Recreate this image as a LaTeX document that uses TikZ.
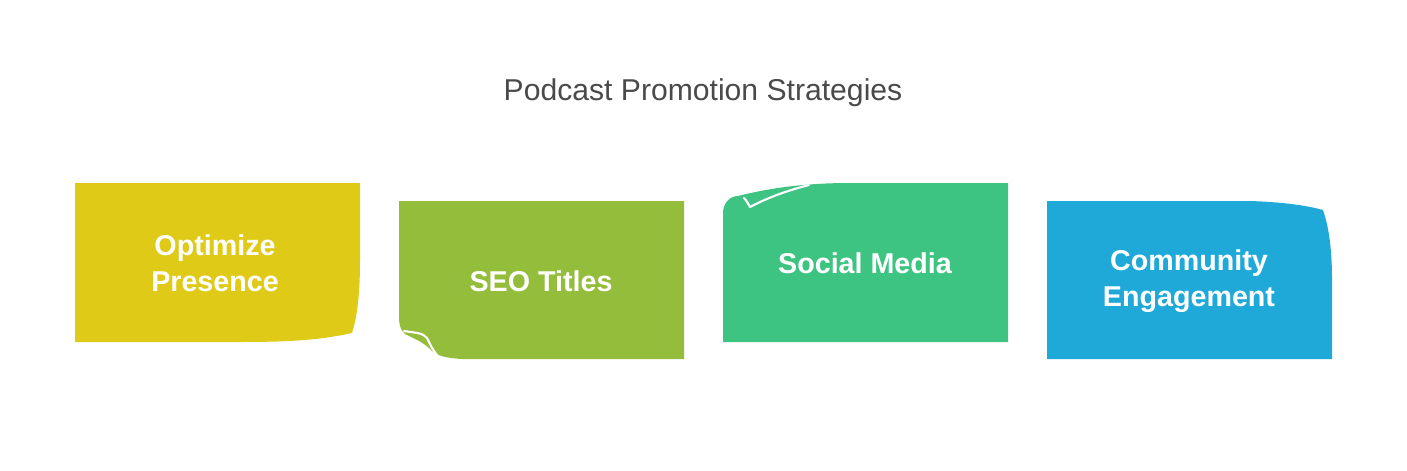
\documentclass[tikz,border=0pt]{standalone}
\usepackage{fontspec}
\setmainfont{Liberation Sans}
\definecolor{cyel}{HTML}{DFCB17}
\definecolor{cgrn}{HTML}{93BD3A}
\definecolor{cmnt}{HTML}{3EC482}
\definecolor{cblu}{HTML}{1FA9D8}
\definecolor{ctitle}{HTML}{4A4A4A}
\begin{document}
\begin{tikzpicture}[x=0.75pt,y=-0.75pt,
  lbl/.style={text=white,font=\fontsize{21.5}{27}\selectfont\bfseries,align=center,inner sep=0pt},
  crease/.style={draw=white,line width=1.6pt,line cap=round,line join=round}]
\useasboundingbox[fill=white] (0,0) rectangle (1407,471);
\node[text=ctitle,font=\fontsize{22.6}{26}\selectfont,inner sep=0pt] (title) at (703,93) {Podcast Promotion Strategies};
% box 1
\fill[cyel] (75,183) -- (360,183) -- (360,260) .. controls (360,295) and (357,318) .. (352,333)
  .. controls (320,340) and (290,342) .. (240,342) -- (75,342) -- cycle;
% box 2
\fill[cgrn] (399,201) -- (684,201) -- (684,359) -- (462,359) .. controls (446,358) and (438,356) .. (432,351)
  .. controls (425,343) and (415,339) .. (405,334) .. controls (400,330) and (399,324) .. (399,315) -- cycle;
\draw[crease] (404,331) .. controls (417,333) and (423,333) .. (427,338) .. controls (430,344) and (432,349) .. (437,355);
% box 3
\fill[cmnt] (1008,183) -- (1008,342) -- (723,342) -- (723,213) .. controls (723,203) and (730,196) .. (738,196)
  .. controls (770,188) and (805,183) .. (850,183) -- cycle;
\draw[crease] (744,198) .. controls (747,201) and (748,204) .. (750,207) .. controls (765,199) and (785,191) .. (809,185);
% box 4
\fill[cblu] (1047,201) -- (1250,201) .. controls (1280,202) and (1305,205) .. (1323,210)
  .. controls (1328,225) and (1332,245) .. (1332,280) -- (1332,359) -- (1047,359) -- cycle;
\node[lbl] (t1) at (215,263) {Optimize\\Presence};
\node[lbl] (t2) at (541,281) {SEO Titles};
\node[lbl] (t3) at (865,263) {Social Media};
\node[lbl] (t4) at (1189,281) {Community\\Engagement};
\end{tikzpicture}
\end{document}
